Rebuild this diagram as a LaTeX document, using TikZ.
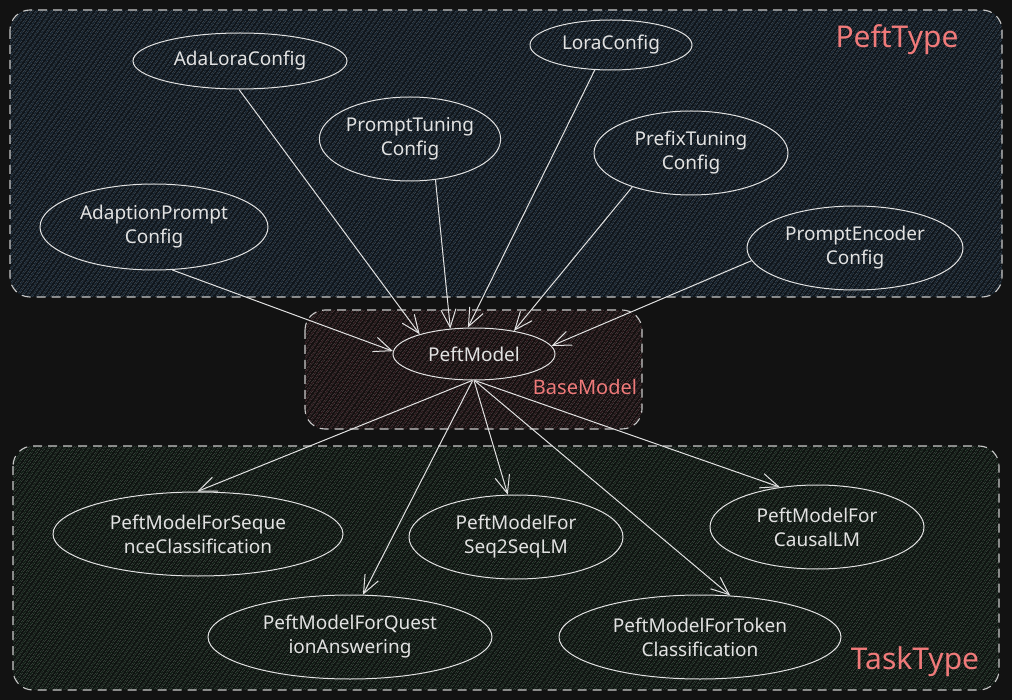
\documentclass[tikz,border=0pt]{standalone}
\usepackage{fontspec}
\setmainfont{Noto Sans}
\usetikzlibrary{arrows.meta,patterns.meta,shapes.geometric}
\definecolor{bgc}{HTML}{121212}
\definecolor{inkc}{HTML}{E2E2E2}
\definecolor{dashc}{HTML}{C8C8C8}
\definecolor{redlab}{HTML}{F07A7A}
\definecolor{bluebase}{HTML}{10161C}
\definecolor{bluehatch}{HTML}{1B2E3F}
\definecolor{redbase}{HTML}{151010}
\definecolor{redhatch}{HTML}{351A1F}
\definecolor{greenbase}{HTML}{0F1411}
\definecolor{greenhatch}{HTML}{15291B}
\tikzset{
  container/.style={draw=dashc, line width=1.1pt, dash pattern=on 9pt off 6pt, rounded corners=20pt},
  hatchfill/.style 2 args={preaction={fill=#1}, pattern={Lines[angle=55,distance=4pt,line width=1.1pt]}, pattern color=#2},
  oval/.style={ellipse, draw=inkc, line width=1pt, inner sep=0pt, text=inkc, align=center,
    font=\fontsize{19}{24}\selectfont},
  conn/.style={draw=inkc, line width=1pt, -{Straight Barb[length=18pt,width=15pt]}},
  grouplab/.style={text=redlab, inner sep=0pt},
}
\begin{document}
\begin{tikzpicture}[x=1pt,y=-1pt]
\fill[bgc] (0,0) rectangle (1012,700);
\useasboundingbox (0,0) rectangle (1012,700);

% containers
\path[container, hatchfill={bluebase}{bluehatch}] (10,10) rectangle (1002,297);
\path[container, hatchfill={redbase}{redhatch}] (305,310) rectangle (642,429);
\path[container, hatchfill={greenbase}{greenhatch}] (13,446) rectangle (999,690);

\node[grouplab, font=\fontsize{30}{32}\selectfont] (pefttype) at (897,40) {PeftType};
\node[grouplab, font=\fontsize{20}{24}\selectfont] (basemodel) at (585,387) {BaseModel};
\node[grouplab, font=\fontsize{30}{32}\selectfont] (tasktype) at (915,662) {TaskType};

% config ellipses
\node[oval, minimum width=214pt, minimum height=56pt] (ada) at (240,61) {AdaLoraConfig};
\node[oval, minimum width=180pt, minimum height=84pt] (ptune) at (410,139) {PromptTuning\\Config};
\node[oval, minimum width=228pt, minimum height=86pt] (adapt) at (154,227) {AdaptionPrompt\\Config};
\node[oval, minimum width=162pt, minimum height=50pt] (lora) at (611,45) {LoraConfig};
\node[oval, minimum width=194pt, minimum height=84pt] (prefix) at (691,153) {PrefixTuning\\Config};
\node[oval, minimum width=216pt, minimum height=84pt] (penc) at (855,248) {PromptEncoder\\Config};

% central
\node[oval, minimum width=162pt, minimum height=52pt] (peft) at (474,354) {PeftModel};

% task ellipses
\node[oval, minimum width=290pt, minimum height=84pt] (seqcls) at (198,534) {PeftModelForSeque\\nceClassification};
\node[oval, minimum width=284pt, minimum height=84pt] (qa) at (350,637) {PeftModelForQuest\\ionAnswering};
\node[oval, minimum width=214pt, minimum height=84pt] (s2s) at (516,537) {PeftModelFor\\Seq2SeqLM};
\node[oval, minimum width=214pt, minimum height=84pt] (causal) at (817,527) {PeftModelFor\\CausalLM};
\node[oval, minimum width=282pt, minimum height=84pt] (token) at (700,637) {PeftModelForToken\\Classification};

% arrows into PeftModel
\draw[conn] (ada.-92) -- (peft.160);
\draw[conn] (ptune.-58) -- (peft.133);
\draw[conn] (lora.-123) -- (peft.103);
\draw[conn] (prefix.-150) -- (peft.30);
\draw[conn] (penc.-173) -- (peft.6);
\draw[conn] (adapt.-67) -- (peft.178);

% arrows out of PeftModel
\draw[conn] (peft.-94) -- (seqcls.91);
\draw[conn] (peft.-93) -- (qa.73);
\draw[conn] (peft.-90) -- (s2s.101);
\draw[conn] (peft.-88) -- (causal.133);
\draw[conn] (peft.-89) -- (token.54);
\end{tikzpicture}
\end{document}
